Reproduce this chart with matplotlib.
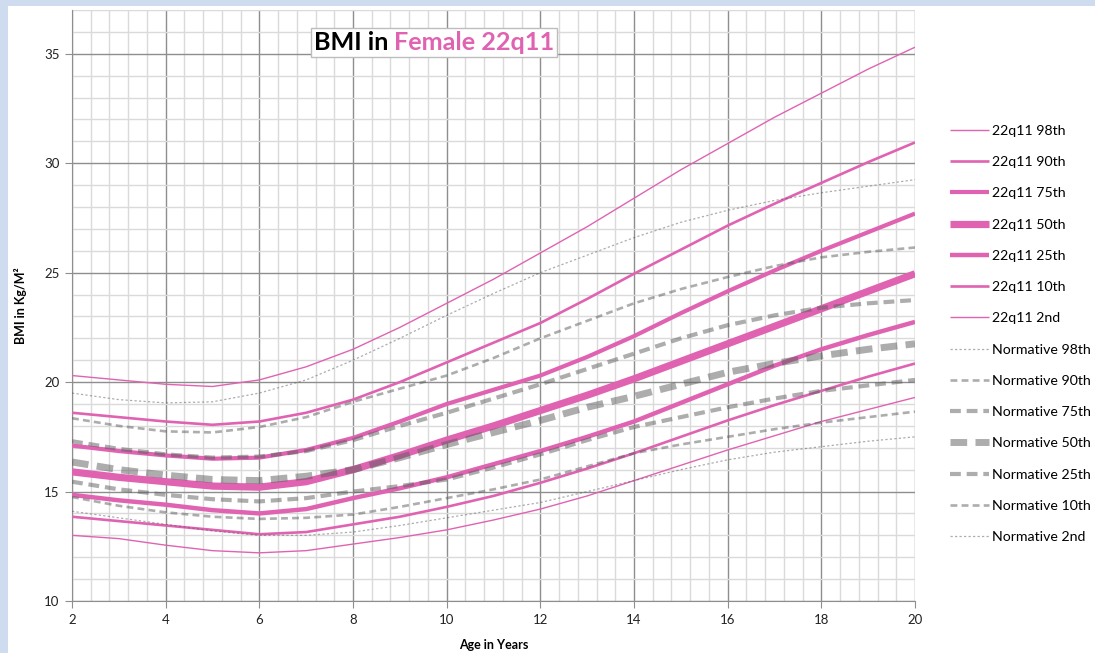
import matplotlib
matplotlib.use('Agg')
import matplotlib.pyplot as plt
from matplotlib.offsetbox import TextArea, HPacker, AnchoredOffsetbox
from matplotlib.patches import Rectangle
from matplotlib.ticker import MultipleLocator

# ---------------- data ----------------
ages = list(range(2, 21))

q22_98 = [20.3, 20.1, 19.9, 19.8, 20.1, 20.7, 21.5, 22.5, 23.6, 24.7, 25.9, 27.1, 28.4, 29.7, 30.9, 32.1, 33.2, 34.3, 35.3]
q22_90 = [18.6, 18.4, 18.2, 18.05, 18.2, 18.6, 19.2, 20.0, 20.9, 21.8, 22.7, 23.8, 24.95, 26.05, 27.15, 28.15, 29.1, 30.05, 30.95]
q22_75 = [17.1, 16.85, 16.65, 16.5, 16.55, 16.9, 17.45, 18.2, 19.0, 19.65, 20.3, 21.15, 22.1, 23.15, 24.15, 25.1, 26.0, 26.85, 27.7]
q22_50 = [15.9, 15.65, 15.45, 15.25, 15.2, 15.45, 16.0, 16.65, 17.35, 18.0, 18.7, 19.4, 20.15, 20.95, 21.75, 22.55, 23.35, 24.15, 24.95]
q22_25 = [14.85, 14.6, 14.4, 14.15, 14.0, 14.2, 14.7, 15.15, 15.65, 16.25, 16.85, 17.5, 18.2, 19.05, 19.9, 20.75, 21.5, 22.15, 22.75]
q22_10 = [13.85, 13.65, 13.45, 13.25, 13.05, 13.15, 13.5, 13.85, 14.3, 14.8, 15.4, 16.05, 16.75, 17.5, 18.25, 18.95, 19.6, 20.25, 20.85]
q22_02 = [13.0, 12.85, 12.55, 12.3, 12.2, 12.3, 12.6, 12.9, 13.25, 13.7, 14.2, 14.8, 15.5, 16.2, 16.9, 17.55, 18.2, 18.75, 19.3]

norm_98 = [19.5, 19.2, 19.05, 19.1, 19.5, 20.1, 21.0, 22.0, 23.05, 24.05, 25.0, 25.8, 26.6, 27.3, 27.85, 28.3, 28.65, 28.95, 29.25]
norm_90 = [18.35, 18.0, 17.75, 17.7, 17.95, 18.4, 19.1, 19.7, 20.3, 21.1, 22.0, 22.8, 23.6, 24.25, 24.8, 25.3, 25.7, 25.95, 26.15]
norm_75 = [17.3, 16.95, 16.7, 16.55, 16.6, 16.85, 17.35, 18.0, 18.6, 19.25, 19.9, 20.6, 21.3, 22.0, 22.6, 23.05, 23.4, 23.6, 23.75]
norm_50 = [16.35, 16.0, 15.75, 15.55, 15.5, 15.7, 16.0, 16.55, 17.15, 17.7, 18.25, 18.85, 19.35, 19.9, 20.45, 20.85, 21.2, 21.5, 21.75]
norm_25 = [15.45, 15.1, 14.85, 14.65, 14.55, 14.7, 15.0, 15.25, 15.55, 16.1, 16.7, 17.35, 17.95, 18.4, 18.85, 19.25, 19.6, 19.85, 20.1]
norm_10 = [14.75, 14.35, 14.05, 13.85, 13.75, 13.8, 13.95, 14.3, 14.7, 15.1, 15.55, 16.15, 16.75, 17.15, 17.5, 17.85, 18.15, 18.4, 18.65]
norm_02 = [14.1, 13.8, 13.5, 13.2, 13.0, 13.0, 13.15, 13.45, 13.8, 14.15, 14.5, 15.0, 15.5, 16.0, 16.45, 16.8, 17.05, 17.3, 17.5]

q22_labels = ['22q11 98th', '22q11 90th', '22q11 75th', '22q11 50th', '22q11 25th', '22q11 10th', '22q11 2nd']
norm_labels = ['Normative 98th', 'Normative 90th', 'Normative 75th', 'Normative 50th',
               'Normative 25th', 'Normative 10th', 'Normative 2nd']

x_ticks = [2, 4, 6, 8, 10, 12, 14, 16, 18, 20]
y_ticks = [10, 15, 20, 25, 30, 35]

# ---------------- style ----------------
plt.rcParams['font.family'] = ['Lato', 'DejaVu Sans']
pink = '#e063b2'
gray_dark = '#5c5c5c'

W, H = 1095, 653
fig = plt.figure(figsize=(W / 100, H / 100), dpi=100)
fig.patch.set_facecolor('#cfdbef')
fig.add_artist(Rectangle((8 / W, 0), 1, 1 - 6 / H, transform=fig.transFigure,
                         facecolor='white', edgecolor='none', zorder=0))

ax = fig.add_axes([72 / W, 1 - 601 / H, 843 / W, 591 / H])
ax.set_xlim(2, 20)
ax.set_ylim(10, 37)
ax.set_facecolor('white')

ax.xaxis.set_major_locator(MultipleLocator(2))
ax.xaxis.set_minor_locator(MultipleLocator(0.4))
ax.yaxis.set_major_locator(MultipleLocator(5))
ax.yaxis.set_minor_locator(MultipleLocator(1))
ax.set_xticks(x_ticks)
ax.set_yticks(y_ticks)
ax.grid(which='minor', color='#dadada', lw=1.0, zorder=0)
ax.grid(which='major', color='#8e8e8e', lw=1.0, zorder=1)
ax.set_axisbelow(True)
ax.tick_params(which='major', length=5, color='#8e8e8e', labelsize=9.5, labelcolor='#222222', pad=4)
ax.tick_params(which='minor', length=0)
for s in ['top', 'right']:
    ax.spines[s].set_visible(False)
for s in ['left', 'bottom']:
    ax.spines[s].set_color('#8e8e8e')

q22_series = [q22_98, q22_90, q22_75, q22_50, q22_25, q22_10, q22_02]
q22_lw = [1.0, 1.9, 3.0, 5.2, 3.2, 1.9, 1.0]
norm_series = [norm_98, norm_90, norm_75, norm_50, norm_25, norm_10, norm_02]
norm_lw = [0.9, 1.9, 3.0, 5.0, 3.0, 1.9, 0.9]
norm_dash = [(1.8, 1.8), (2.6, 1.6), (2.6, 1.4), (2.4, 1.2), (2.6, 1.4), (2.6, 1.6), (1.8, 1.8)]

handles = []
for d, lw in zip(q22_series, q22_lw):
    ln, = ax.plot(ages, d, color=pink, lw=lw, solid_joinstyle='round',
                  solid_capstyle='butt', zorder=3)
    handles.append(ln)
for d, lw, ds in zip(norm_series, norm_lw, norm_dash):
    ln, = ax.plot(ages, d, color=gray_dark, alpha=0.5, lw=lw, dashes=ds,
                  dash_capstyle='butt', zorder=4)
    handles.append(ln)

ax.set_xlabel('Age in Years', fontsize=9, fontweight='bold', labelpad=10)
ax.set_ylabel('BMI in Kg/M²', fontsize=9, fontweight='bold', labelpad=12)

fig.legend(handles, q22_labels + norm_labels, loc='upper left',
           bbox_to_anchor=(937 / W, 1 - 112 / H), frameon=False, fontsize=10.2,
           labelspacing=1.36, handlelength=2.8, handletextpad=0.2)

# title box with two colours
t1 = TextArea('BMI in ', textprops=dict(color='black', fontsize=18.2, fontweight='bold'))
t2 = TextArea('Female 22q11', textprops=dict(color=pink, fontsize=18.2, fontweight='bold'))
box = HPacker(children=[t1, t2], align='baseline', pad=0, sep=0)
anch = AnchoredOffsetbox(loc='upper left', child=box, pad=0.2, frameon=True, borderpad=0,
                         bbox_to_anchor=(311 / W, 1 - 28 / H), bbox_transform=fig.transFigure)
anch.patch.set_edgecolor('#bdbdbd')
anch.patch.set_facecolor('white')
anch.patch.set_linewidth(1.0)
anch.set_zorder(10)
ax.add_artist(anch)

fig.savefig('out.png', dpi=100, facecolor=fig.get_facecolor())
